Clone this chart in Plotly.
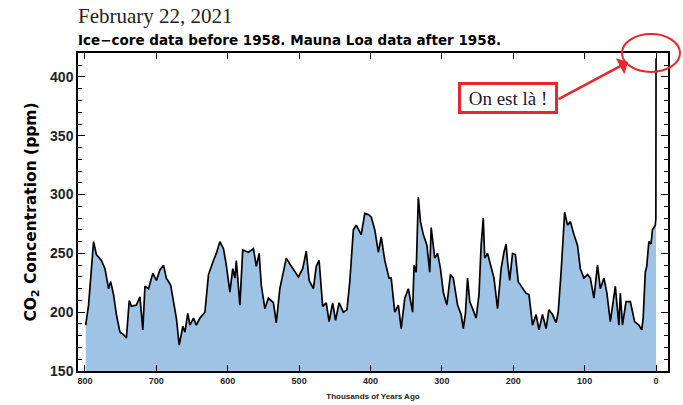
import plotly.graph_objects as go

# thousands of years ago (negative = after 1950 reference) and CO2 ppm
ages_kyr = [799, 795, 792, 788, 784, 777, 772, 767, 764, 760, 756, 751, 746, 742, 738, 735,
            728, 723, 719, 716, 711, 705, 700, 695, 690, 686, 680, 676, 672, 668, 663, 660,
            656, 653, 648, 644, 639, 632, 627, 620, 616, 611, 606, 602, 597, 593, 590, 588,
            583, 579, 571, 564, 560, 556, 553, 548, 543, 536, 532, 527, 522, 518, 513, 508,
            501, 495, 490, 486, 480, 476, 472, 467, 462, 458, 453, 449, 444, 438, 433, 429,
            424, 420, 413, 408, 403, 399, 394, 389, 385, 380, 374, 371, 366, 361, 357, 352,
            347, 341, 339, 336, 333, 330, 326, 321, 317, 315, 310, 306, 302, 298, 293, 288,
            284, 278, 273, 270, 267, 264, 261, 257, 252, 248, 245, 242, 240, 236, 231, 227,
            222, 217, 213, 210, 208, 205, 201, 197, 193, 187, 182, 178, 175, 173, 168, 164,
            159, 154, 150, 145, 140, 137, 133, 130, 128, 124, 120, 115, 110, 106, 101, 96,
            92, 87, 82, 78, 73, 69, 64, 57, 52, 50, 47, 42, 36, 30, 24, 20,
            18, 15, 13, 10, 7, 5, 1, 0.2, 0.0, -0.063]
co2_ppm = [189, 206, 229, 260, 249, 244, 237, 220, 226, 215, 198, 183, 181, 178, 210, 205,
           206, 213, 185, 222, 220, 233, 227, 236, 240, 229, 223, 209, 195, 172, 188, 183,
           199, 189, 195, 189, 195, 200, 232, 244, 250, 260, 254, 240, 217, 237, 229, 244,
           206, 253, 251, 254, 239, 250, 223, 203, 212, 208, 191, 220, 234, 246, 241, 236,
           230, 237, 252, 227, 220, 239, 244, 205, 208, 192, 208, 193, 208, 200, 202, 226,
           270, 274, 266, 284, 283, 281, 270, 251, 264, 244, 229, 229, 200, 206, 186, 212,
           220, 200, 240, 234, 298, 277, 266, 257, 234, 272, 246, 250, 237, 217, 206, 232,
           229, 206, 198, 186, 199, 229, 209, 203, 195, 215, 257, 280, 246, 250, 237, 229,
           203, 237, 251, 258, 243, 227, 250, 249, 226, 220, 216, 215, 202, 189, 198, 185,
           198, 186, 202, 198, 191, 200, 234, 263, 285, 274, 277, 266, 257, 237, 229, 232,
           229, 212, 240, 220, 229, 217, 192, 222, 189, 216, 189, 209, 209, 192, 189, 185,
           195, 234, 239, 260, 258, 270, 274, 280, 315, 416]

x_ticks = [800, 700, 600, 500, 400, 300, 200, 100, 0]
y_ticks = [150, 200, 250, 300, 350, 400]

fig = go.Figure()
fig.add_trace(go.Scatter(
    x=ages_kyr, y=co2_ppm, mode="lines",
    line=dict(color="black", width=1.7),
    fill="tozeroy", fillcolor="#9fc3e5",
    hoverinfo="skip", showlegend=False,
))

fig.update_layout(
    width=683, height=405,
    margin=dict(l=78, r=15, t=53, b=34, autoexpand=False),
    paper_bgcolor="white", plot_bgcolor="white",
    xaxis=dict(
        range=[809.8, -16.8], tickvals=x_ticks, ticktext=[str(v) for v in x_ticks],
        ticks="inside", ticklen=6, tickwidth=1.2, tickcolor="black",
        showline=True, linecolor="black", linewidth=1.5, mirror="ticks",
        showgrid=False, zeroline=False, automargin=False,
        tickfont=dict(family="Liberation Sans, Arial", size=9, color="#222", weight="bold"),
        title=dict(text="Thousands of Years Ago", standoff=9,
                   font=dict(family="Liberation Sans, Arial", size=8, color="#222", weight="bold")),
    ),
    yaxis=dict(
        range=[150, 420.4], tickvals=y_ticks,
        ticks="inside", ticklen=7, tickwidth=1.2, tickcolor="black",
        minor=dict(dtick=10, ticks="inside", ticklen=4, tickcolor="black", tickwidth=1),
        showline=True, linecolor="black", linewidth=1.5, mirror="ticks",
        showgrid=False, zeroline=False, automargin=False,
        tickfont=dict(family="Liberation Sans, Arial", size=14, color="#222", weight="bold"),
        title=dict(text="CO<sub>2</sub> Concentration (ppm)", standoff=10,
                   font=dict(family="DejaVu Sans", size=15.5, color="black", weight="bold")),
    ),
    annotations=[
        dict(text="February 22, 2021", xref="paper", yref="paper", x=-0.003, y=1.115,
             xanchor="left", yanchor="middle", showarrow=False,
             font=dict(family="Liberation Serif, Times New Roman", size=21, color="#222")),
        dict(text="Ice\u2212core data before 1958. Mauna Loa data after 1958.",
             xref="paper", yref="paper", x=-0.003, y=1.041,
             xanchor="left", yanchor="middle", showarrow=False,
             font=dict(family="DejaVu Sans", size=13.5, color="black", weight="bold")),
        dict(text="On est là !", xref="paper", yref="paper", x=0.7288, y=0.857,
             xanchor="center", yanchor="middle", showarrow=False,
             width=92, height=24, borderpad=1, borderwidth=3, bordercolor="#e8262b",
             bgcolor="white",
             font=dict(family="Liberation Serif, Times New Roman", size=19, color="#1a1a2e")),
        dict(text="", xref="paper", yref="paper", x=0.9322, y=0.9717,
             ax=-71, ay=38, showarrow=True, arrowhead=1, arrowsize=1.2,
             arrowwidth=2.5, arrowcolor="#e8262b"),
    ],
    shapes=[
        dict(type="circle", xref="paper", yref="paper",
             x0=0.922, x1=1.0203, y0=0.9403, y1=1.0597,
             line=dict(color="#e8262b", width=2)),
    ],
)

fig.write_html("out.html", config={"displayModeBar": False},
               post_script="document.body.style.margin='0';document.body.style.padding='0';")
